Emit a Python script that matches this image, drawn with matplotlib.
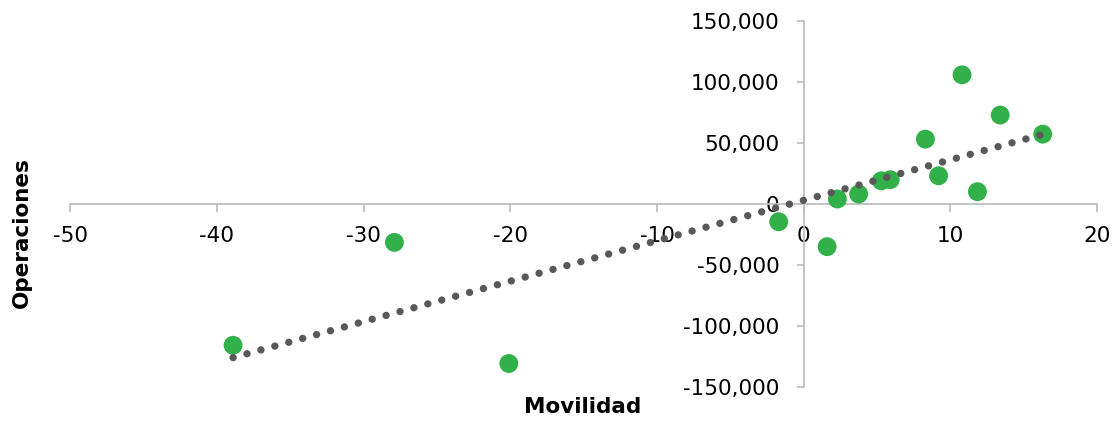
import numpy as np
import matplotlib
matplotlib.use("Agg")
import matplotlib.pyplot as plt
from matplotlib.ticker import FuncFormatter

# Movilidad (x) vs Operaciones (y)
movilidad = [-38.9, -27.9, -20.1, -1.7, 1.6, 2.3, 3.75, 5.3, 5.9,
             8.3, 9.2, 10.8, 11.85, 13.4, 16.3]
operaciones = [-115600, -31400, -130500, -14500, -34900, 4100, 8200, 19000, 19900,
               53100, 23100, 105700, 10100, 72800, 57200]

x_ticks = [-50, -40, -30, -20, -10, 0, 10, 20]
y_ticks = [-150000, -100000, -50000, 0, 50000, 100000, 150000]

GREEN = "#32b14a"
TREND = "#595959"
AXIS_GRAY = "#bfbfbf"

plt.rcParams["font.family"] = ["DejaVu Sans"]
plt.rcParams["axes.unicode_minus"] = False

fig = plt.figure(figsize=(11.17, 4.21), dpi=100)
ax = fig.add_axes([0.0629, 0.0800, 0.9192, 0.8708])

x = np.array(movilidad, dtype=float)
y = np.array(operaciones, dtype=float)

ax.scatter(x, y, s=185, color=GREEN, edgecolors="none", zorder=3)

# linear trend (Excel-style dotted trendline)
k, b = np.polyfit(x, y, 1)
xt = np.linspace(x.min(), x.max(), 200)
ax.plot(xt, k * xt + b, color=TREND, lw=5.3, linestyle=(0, (0.01, 1.95)),
        dash_capstyle="round", zorder=4)

ax.set_xlim(-50, 20)
ax.set_ylim(-150000, 150000)
ax.set_xticks(x_ticks)
ax.set_yticks(y_ticks)
ax.xaxis.set_major_formatter(FuncFormatter(lambda v, p: f"{int(v)}"))
ax.yaxis.set_major_formatter(FuncFormatter(lambda v, p: f"{int(v):,}"))

for side in ("top", "right"):
    ax.spines[side].set_visible(False)
ax.spines["left"].set_position(("data", 0))
ax.spines["bottom"].set_position(("data", 0))
for side in ("left", "bottom"):
    ax.spines[side].set_color(AXIS_GRAY)
    ax.spines[side].set_linewidth(1.3)

ax.tick_params(axis="x", direction="out", length=5.5, width=1.3, color=AXIS_GRAY,
               labelsize=15.5, pad=10)
ax.tick_params(axis="y", direction="out", length=5.3, width=1.3, color=AXIS_GRAY,
               labelsize=15.5, pad=12)

fig.text(22 / 1117, 1 - 233 / 421, "Operaciones", rotation=90, ha="center", va="center",
         fontsize=15.5, fontweight="bold")
fig.text(583 / 1117, 1 - 407 / 421, "Movilidad", ha="center", va="center",
         fontsize=15.5, fontweight="bold")

fig.savefig("out.png", dpi=100)
